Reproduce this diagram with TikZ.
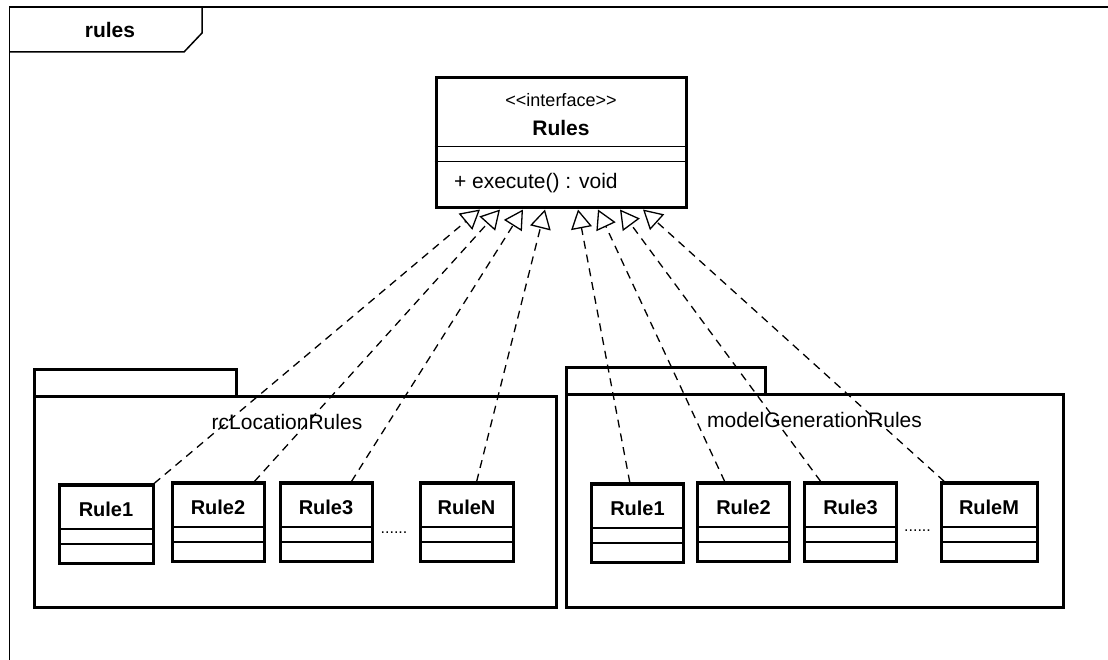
\documentclass[tikz,border=0pt]{standalone}
\usepackage{fontspec}
\setmainfont{Liberation Sans}
\usetikzlibrary{arrows.meta, positioning, calc}

\begin{document}
\begin{tikzpicture}[
    x=1pt, y=1pt,
    umlbox/.style={rectangle, draw, line width=3pt, inner sep=0pt},
    rulebox/.style={umlbox, minimum width=92pt, text height=31pt, text depth=47pt, font=\fontsize{20pt}{24pt}\selectfont\bfseries,
        path picture={
            \draw[line width=1.3pt] ([yshift=34pt]path picture bounding box.south west) -- ([yshift=34pt]path picture bounding box.south east);
            \draw[line width=1.3pt] ([yshift=19pt]path picture bounding box.south west) -- ([yshift=19pt]path picture bounding box.south east);
        }},
    pkg/.style={umlbox},
    pkgname/.style={font=\fontsize{21pt}{25pt}\selectfont},
    dotsep/.style={font=\fontsize{16pt}{18pt}\selectfont, inner sep=0pt},
    divider/.style={line width=1.3pt},
    frameline/.style={line width=1.5pt},
    realize/.style={-{Triangle[open, length=19pt, width=21pt]}, line width=1.3pt, dash pattern=on 8pt off 6pt}
]
\useasboundingbox (0,0) rectangle (1108,659);

% frame
\draw[frameline] (1112,652) -- (9.5,652) -- (9.5,-4);
\draw[frameline] (9.5,607) -- (184,607) -- (202,626) -- (202,652);
\node[font=\fontsize{21pt}{25pt}\selectfont\bfseries] (framename) at (110,629) {rules};

% interface
\node[umlbox, minimum width=250pt, minimum height=130pt] (rules) at (561,516) {};
\node[font=\fontsize{18pt}{22pt}\selectfont] (stereo) at ($(rules.north)+(0,-24)$) {<{}<interface>{}>};
\node[font=\fontsize{21pt}{25pt}\selectfont\bfseries] (rulesname) at ($(rules.north)+(0,-51)$) {Rules};
\draw[divider] ($(rules.north west)+(0,-70)$) -- ($(rules.north east)+(0,-70)$);
\draw[divider] ($(rules.north west)+(0,-85)$) -- ($(rules.north east)+(0,-85)$);
\node[font=\fontsize{21pt}{25pt}\selectfont, anchor=west] (execop) at ($(rules.north west)+(16,-107)$) {+ execute() : void};

% packages
\node[pkg, minimum width=522pt, minimum height=210pt] (rcloc) at (295,157) {};
\node[pkg, minimum width=202pt, minimum height=27pt] (rcloctab) at (135,275.5) {};
\node[pkgname] (rclocname) at ($(rcloc.north)+(-8,-26)$) {rcLocationRules};

\node[pkg, minimum width=497pt, minimum height=212pt] (modgen) at (814.5,158) {};
\node[pkg, minimum width=199pt, minimum height=27pt] (modgentab) at (665.5,277.5) {};
\node[pkgname] (modgenname) at ($(modgen.north)+(0,-26)$) {modelGenerationRules};

% rule classes
\node[rulebox, minimum width=94pt] (l1) at (106,135) {Rule1};
\node[rulebox] (l2) at (218,137) {Rule2};
\node[rulebox] (l3) at (326,137) {Rule3};
\node[rulebox, minimum width=93pt] (ln) at (466.5,137) {RuleN};
\node[dotsep, anchor=base] (ldots) at (394,126) {......};

\node[rulebox] (m1) at (637.5,136) {Rule1};
\node[rulebox] (m2) at (743.5,137) {Rule2};
\node[rulebox] (m3) at (850.5,137) {Rule3};
\node[rulebox, minimum width=96pt] (mm) at (989,137) {RuleM};
\node[dotsep, anchor=base] (mdots) at (917.5,128) {......};

% realization ends
\coordinate (t1) at ($(rules.south)+(-81,0)$);
\coordinate (t2) at ($(rules.south)+(-61,0)$);
\coordinate (t3) at ($(rules.south)+(-38,0)$);
\coordinate (t4) at ($(rules.south)+(-16,0)$);
\coordinate (t5) at ($(rules.south)+(17,0)$);
\coordinate (t6) at ($(rules.south)+(37,0)$);
\coordinate (t7) at ($(rules.south)+(59,0)$);
\coordinate (t8) at ($(rules.south)+(82,0)$);

\draw[realize] (l1) -- (t1);
\draw[realize] (l2) -- (t2);
\draw[realize] (l3) -- (t3);
\draw[realize] (ln) -- (t4);
\draw[realize] (m1) -- (t5);
\draw[realize] (m2) -- (t6);
\draw[realize] (m3) -- (t7);
\draw[realize] (mm) -- (t8);

\end{tikzpicture}
\end{document}
